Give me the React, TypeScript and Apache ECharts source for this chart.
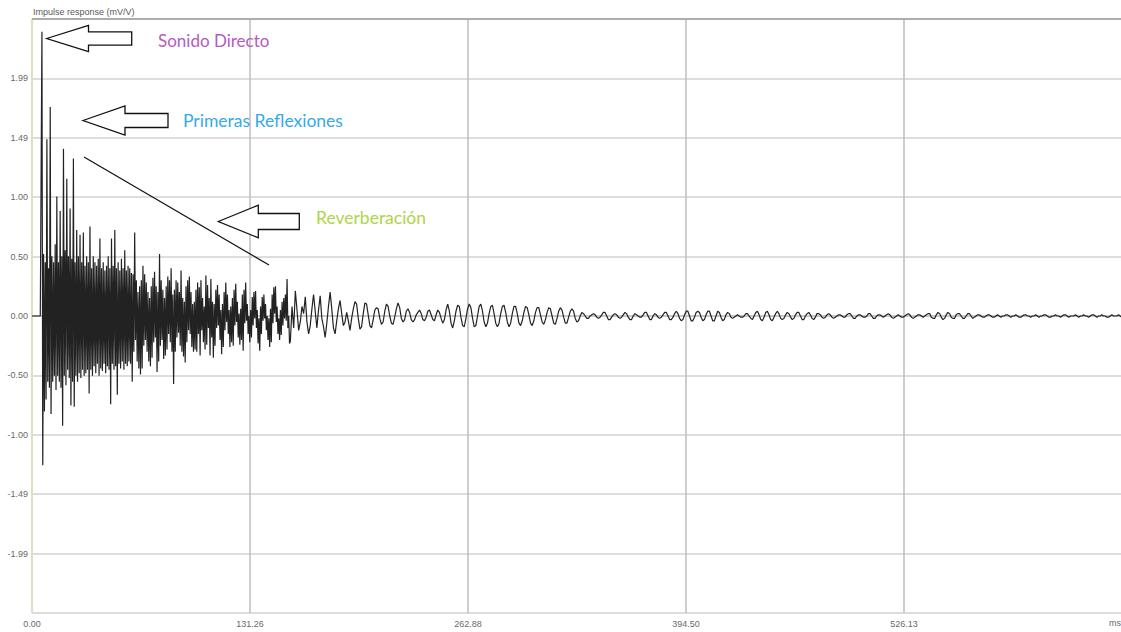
import React, { useEffect, useRef } from "react";
import * as echarts from "echarts";

// Flat lead-in before the direct sound, one sample per millisecond (mV/V).
const preDelay = [0, 0, 0, 0, 0, 0];
const PRE_DELAY_START_MS = 0;

// Dense early part (6–155 ms): per-millisecond peak envelope, upper and lower extent (mV/V).
const ENVELOPE_START_MS = 6;
const earlyPeakHigh = [
  2.38, 0.52, 0.45, 1.48, 0.4, 1.75, 0.5, 0.45, 0.6, 1.0,
  0.45, 0.88, 0.5, 1.4, 0.55, 1.15, 0.5, 0.9, 0.48, 1.32,
  0.45, 0.72, 0.5, 0.68, 0.45, 0.7, 0.42, 0.5, 0.45, 0.75,
  0.4, 0.5, 0.45, 0.42, 0.48, 0.65, 0.4, 0.45, 0.38, 0.42,
  0.5, 0.4, 0.65, 0.42, 0.72, 0.4, 0.45, 0.38, 0.48, 0.4,
  0.55, 0.38, 0.42, 0.4, 0.36, 0.35, 0.7, 0.3, 0.2, 0.25,
  0.3, 0.42, 0.35, 0.28, 0.2, 0.15, 0.25, 0.32, 0.37, 0.25,
  0.2, 0.52, 0.3, 0.22, 0.15, 0.25, 0.33, 0.3, 0.4, 0.18,
  0.22, 0.3, 0.28, 0.2, 0.38, 0.15, 0.12, 0.25, 0.3, 0.33,
  0.2, 0.1, 0.12, 0.22, 0.28, 0.24, 0.3, 0.15, 0.08, 0.34,
  0.26, 0.15, 0.31, 0.12, 0.1, 0.22, 0.26, 0.18, 0.05, 0.1,
  0.2, 0.28, 0.18, 0.05, 0.08, 0.15, 0.22, 0.27, 0.12, 0.02,
  0.06, 0.18, 0.22, 0.28, 0.1, 0.0, 0.05, 0.16, 0.2, 0.21,
  0.05, -0.02, 0.08, 0.16, 0.18, 0.1, 0.0, -0.02, 0.06, 0.18,
  0.24, 0.25, 0.08, -0.02, 0.05, 0.12, 0.15, 0.18, 0.31, 0.0,
];
const earlyPeakLow = [
  -1.25, -0.8, -0.7, -0.55, -0.6, -0.82, -0.55, -0.5, -0.62, -0.5,
  -0.55, -0.6, -0.92, -0.5, -0.58, -0.45, -0.52, -0.75, -0.55, -0.76,
  -0.5, -0.55, -0.48, -0.52, -0.45, -0.5, -0.48, -0.45, -0.65, -0.45,
  -0.5, -0.42, -0.48, -0.4, -0.5, -0.44, -0.46, -0.4, -0.48, -0.42,
  -0.45, -0.74, -0.4, -0.45, -0.42, -0.66, -0.4, -0.44, -0.38, -0.45,
  -0.4, -0.42, -0.38, -0.4, -0.55, -0.3, -0.2, -0.38, -0.44, -0.49,
  -0.44, -0.25, -0.2, -0.3, -0.38, -0.42, -0.35, -0.22, -0.18, -0.47,
  -0.38, -0.25, -0.2, -0.36, -0.33, -0.28, -0.15, -0.22, -0.3, -0.57,
  -0.3, -0.18, -0.14, -0.25, -0.3, -0.34, -0.39, -0.22, -0.12, -0.15,
  -0.26, -0.3, -0.28, -0.3, -0.15, -0.33, -0.12, -0.22, -0.28, -0.24,
  -0.1, -0.33, -0.18, -0.35, -0.25, -0.1, -0.08, -0.2, -0.32, -0.26,
  -0.12, -0.05, -0.15, -0.26, -0.22, -0.25, -0.08, -0.05, -0.18, -0.24,
  -0.2, -0.29, -0.06, -0.04, -0.15, -0.22, -0.18, -0.08, -0.02, -0.1,
  -0.23, -0.29, -0.15, -0.04, -0.02, -0.12, -0.2, -0.26, -0.22, -0.06,
  0.02, -0.05, -0.15, -0.2, -0.16, -0.08, -0.02, -0.04, -0.1, -0.23,
];

// Resolved decay from 156 ms on, one sample per millisecond (mV/V).
const LATE_START_MS = 156;
const lateDecay = [
  -0.21, 0.08, -0.1, 0.21, 0.05,
  -0.12, -0.05, 0.08, 0.02, 0.16, -0.05, -0.15, -0.08, 0.06, 0.18, 0.04, -0.1, 0.05, 0.17, -0.02, -0.09,
  -0.18, -0.06, 0.08, 0.2, 0.06, -0.1, -0.15, -0.04, 0.06, 0.13, 0.02, -0.08, -0.05, 0.03, -0.04, -0.12,
  -0.02, 0.06, 0.12, 0.1, -0.02, -0.11, -0.09, 0.02, 0.11, 0.1, 0.01, -0.08, -0.1, -0.03, 0.05, 0.07,
  0.06, -0.02, -0.07, -0.05, 0.04, 0.1, 0.08, 0.0, -0.06, -0.07, -0.01, 0.06, 0.11, 0.07, -0.02, -0.05,
  -0.03, 0.04, 0.06, 0.03, -0.03, -0.05, -0.03, 0.01, 0.03, 0.05, 0.02, -0.03, -0.04, -0.01, 0.04, 0.05,
  0.01, -0.03, -0.04, 0.01, 0.05, 0.03, -0.02, -0.06, -0.03, 0.05, 0.1, 0.04, -0.06, -0.1, -0.04, 0.04,
  0.09, 0.08, -0.01, -0.08, -0.09, -0.02, 0.06, 0.1, 0.07, -0.02, -0.09, -0.08, 0.0, 0.08, 0.1, 0.04,
  -0.05, -0.09, -0.06, 0.02, 0.08, 0.09, 0.02, -0.06,
];

const modalTail = [
  -0.09, -0.06, 0.02, 0.08, 0.09, 0.03, -0.05, -0.09, -0.06, 0.02, 0.08, 0.08, 0.02, -0.06, -0.08, -0.04,
  0.03, 0.08, 0.07, 0.01, -0.06, -0.08, -0.04, 0.03, 0.07, 0.07, 0.01, -0.05, -0.07, -0.03, 0.03, 0.07,
  0.06, 0.0, -0.06, -0.07, -0.02, 0.04, 0.07, 0.05, -0.01, -0.06, -0.06, -0.01, 0.04, 0.06, 0.04, -0.02,
  -0.05, -0.04, 0.0, 0.03,
];

const tailFade = [
  0.02, 0.0, -0.02, -0.02, 0.0, 0.01, 0.02, 0.01, -0.01, -0.02, -0.01, 0.01, 0.03, 0.03, 0.0, -0.03,
  -0.03, -0.01, 0.01, 0.02, 0.01, -0.01, -0.02, -0.01, 0.01, 0.03, 0.02, -0.01, -0.03, -0.03, 0.0, 0.02,
  0.01, 0.0, -0.01, -0.01, 0.01, 0.03, 0.03, 0.0, -0.03, -0.03, 0.0, 0.02, 0.01, -0.01, -0.02, -0.01,
  0.01, 0.03, 0.03, 0.0, -0.03, -0.03, -0.01, 0.02, 0.04, 0.02, -0.02, -0.04, -0.03, 0.01, 0.04, 0.04,
  0.0, -0.04, -0.04, -0.01, 0.03, 0.04,
];

const lowTail = [
  0.03, -0.01, -0.04, -0.03, 0.01, 0.04, 0.04, 0.0, -0.04, -0.04, 0.0, 0.04, 0.03, -0.01, -0.04, -0.03,
  0.01, 0.03, 0.02, -0.01, -0.02, -0.01, 0.0, 0.01, 0.0, -0.01, -0.01, 0.0, 0.02, 0.02, 0.0, -0.02,
  -0.03, 0.0, 0.03, 0.04, 0.01, -0.03, -0.04, -0.01, 0.03, 0.04, 0.01, -0.03, -0.04, -0.01, 0.02, 0.04,
  0.02, -0.02, -0.03, -0.02, 0.01, 0.03, 0.02, -0.01, -0.03, -0.02, 0.01, 0.03, 0.03, 0.0, -0.03, -0.03,
  0.0, 0.02, 0.03, 0.01, -0.02, -0.03, -0.01, 0.02, 0.02, 0.01, -0.01, -0.02, -0.01, 0.01,
];

const residualTail = [
  0.02, 0.01, -0.01, -0.02, -0.01, 0.0, 0.01, 0.01, 0.0, -0.01, -0.01, 0.01, 0.02, 0.02, 0.0, -0.02,
  -0.02, 0.0, 0.01, 0.01, 0.0, -0.01, -0.01, 0.0, 0.02, 0.02, 0.0, -0.02, -0.02, 0.0, 0.01, 0.01,
  0.0, -0.01, 0.0, 0.01, 0.02, 0.01, -0.01, -0.02, -0.01, 0.0, 0.01, 0.0, -0.01, -0.01, 0.0, 0.01,
  0.02, 0.01, -0.01, -0.02, -0.01, 0.0, 0.01, 0.01, 0.0, -0.01, 0.0, 0.01, 0.02, 0.02, -0.01, -0.02,
  -0.02, 0.01, 0.03, 0.02, -0.01, -0.03, -0.02, 0.01, 0.03, 0.02, -0.01, -0.02, -0.02, 0.01, 0.02, 0.02,
  0.0, -0.02, -0.02, 0.0, 0.02, 0.02, 0.0, -0.02, -0.01, 0.0, 0.01, 0.01, 0.0, -0.01, -0.01,
];

const noiseFloor = [
  0.0, 0.01, 0.01, 0.0, -0.01, -0.01, 0.0, 0.01, 0.0, -0.01, 0.0, 0.0, 0.01, 0.01, 0.0, -0.01,
  0.0, 0.0, 0.01, 0.0, -0.01, -0.01, 0.0, 0.01, 0.01, 0.0, 0.0, -0.01, 0.0, 0.0, 0.01, 0.0,
  -0.01, 0.0, 0.0, 0.01, 0.01, 0.0, -0.01, -0.01, 0.0, 0.0, 0.01, 0.0, 0.0, -0.01, 0.0, 0.01,
  0.01, 0.0, -0.01, 0.0, 0.0, 0.0, 0.01, 0.0, -0.01, 0.0, 0.0, 0.01, 0.0, 0.0, -0.01, 0.0,
  0.01, 0.01, 0.0, -0.01, 0.0, 0.0, 0.01, 0.0, 0.0, -0.01, -0.01, 0.0, 0.01, 0.0, 0.0, 0.0,
  0.01, 0.0, -0.01, 0.0,
];

// Axis scales and their printed tick labels.
const X_STEP = 131.625;
const xTickLabels = ["0.00", "131.26", "262.88", "394.50", "526.13", ""];
const xUnit = "ms";
const Y_STEP = 0.4975;
const yTickLabels = ["", "-1.99", "-1.49", "-1.00", "-0.50", "0.00", "0.50", "1.00", "1.49", "1.99", ""];
const yTitle = "Impulse response (mV/V)";

const annotations = [
  { text: "Sonido Directo", color: "#b45ac4" },
  { text: "Primeras Reflexiones", color: "#35aaea" },
  { text: "Reverberación", color: "#afd449" },
];

// Build the trace: lead-in samples, min/max envelope pairs, then the late samples.
function buildTrace(): number[][] {
  const pts: number[][] = [];
  preDelay.forEach((v, i) => pts.push([PRE_DELAY_START_MS + i, v]));
  earlyPeakHigh.forEach((hi, i) => {
    const t = ENVELOPE_START_MS + i;
    pts.push([t, hi]);
    pts.push([t + 0.5, earlyPeakLow[i]]);
  });
  const late = [...lateDecay, ...modalTail, ...tailFade, ...lowTail, ...residualTail, ...noiseFloor];
  late.forEach((v, i) => pts.push([LATE_START_MS + i, v]));
  return pts;
}

// Hollow arrow pointing left: tip, head back edge, half-heights, tail end.
function arrow(tipX: number, tipY: number, headX: number, headHalf: number, shaftHalf: number, endX: number) {
  return {
    type: "polygon",
    z: 10,
    shape: {
      points: [
        [tipX, tipY],
        [headX, tipY - headHalf],
        [headX, tipY - shaftHalf],
        [endX, tipY - shaftHalf],
        [endX, tipY + shaftHalf],
        [headX, tipY + shaftHalf],
        [headX, tipY + headHalf],
      ],
    },
    style: { fill: "#ffffff", stroke: "#111111", lineWidth: 1.3 },
  };
}

const TICK_FONT = "'Liberation Sans', Arial, sans-serif";
const NOTE_FONT = "Lato, 'Open Sans', sans-serif";

function note(i: number, x: number, y: number, size: number) {
  return {
    type: "text",
    z: 10,
    x,
    y,
    style: {
      text: annotations[i].text,
      font: `${size}px ${NOTE_FONT}`,
      fill: annotations[i].color,
      verticalAlign: "middle",
    },
  };
}

export default function App() {
  const ref = useRef<HTMLDivElement>(null);

  useEffect(() => {
    if (!ref.current) return;
    const chart = echarts.init(ref.current, null, { renderer: "svg" });
    const yMin = -5 * Y_STEP;

    chart.setOption({
      animation: false,
      backgroundColor: "#ffffff",
      // the time axis runs a few pixels past the right edge of the window
      grid: { left: 32, top: 19, right: 0, bottom: 19, containLabel: false },
      xAxis: {
        type: "value",
        min: 0,
        max: 5 * X_STEP,
        interval: X_STEP,
        axisLine: { show: true, lineStyle: { color: "#c2c2c2", width: 1.5 } },
        axisTick: { show: false },
        splitLine: { show: true, lineStyle: { color: "#bdbdbd", width: 1.5 } },
        axisLabel: {
          margin: 6,
          fontSize: 9,
          fontFamily: TICK_FONT,
          color: "#6a6a6a",
          formatter: (v: number) => xTickLabels[Math.round(v / X_STEP)] ?? "",
        },
      },
      yAxis: {
        type: "value",
        min: yMin,
        max: 5 * Y_STEP,
        interval: Y_STEP,
        axisLine: { show: true, onZero: false, lineStyle: { color: "#e3e6bd", width: 1.5 } },
        axisTick: { show: false },
        splitLine: { show: true, lineStyle: { color: "#d2d2d2", width: 1.5 } },
        axisLabel: {
          margin: 4,
          fontSize: 9,
          fontFamily: TICK_FONT,
          color: "#6a6a6a",
          formatter: (v: number) => yTickLabels[Math.round((v - yMin) / Y_STEP)] ?? "",
        },
      },
      series: [
        {
          type: "line",
          data: buildTrace(),
          showSymbol: false,
          symbol: "none",
          clip: true,
          z: 3,
          lineStyle: { color: "#222222", width: 1.2 },
        },
      ],
      graphic: [
        {
          type: "line",
          z: 5,
          shape: { x1: 32, y1: 19, x2: 1125, y2: 19 },
          style: { stroke: "#9c9c9c", lineWidth: 1.5 },
        },
        {
          type: "text",
          x: 33,
          y: 12,
          style: { text: yTitle, font: `9px ${TICK_FONT}`, fill: "#5a5a5a", verticalAlign: "middle" },
        },
        {
          type: "text",
          x: 1109,
          y: 623,
          style: { text: xUnit, font: `9px ${TICK_FONT}`, fill: "#6a6a6a", verticalAlign: "middle" },
        },
        arrow(46.7, 38.5, 88.5, 13, 6.7, 131.7),
        arrow(83, 120.5, 125, 14.5, 7, 168),
        arrow(218.3, 221.5, 258.3, 16.3, 8, 299.3),
        {
          type: "line",
          z: 10,
          shape: { x1: 84, y1: 157, x2: 269, y2: 265 },
          style: { stroke: "#111111", lineWidth: 1.2 },
        },
        note(0, 158, 40, 17),
        note(1, 183, 120, 17.5),
        note(2, 316, 217, 17.5),
      ],
    });

    return () => chart.dispose();
  }, []);

  return (
    <div
      ref={ref}
      style={{ position: "fixed", left: 0, top: 0, width: 1125, height: 632, background: "#ffffff" }}
    />
  );
}
